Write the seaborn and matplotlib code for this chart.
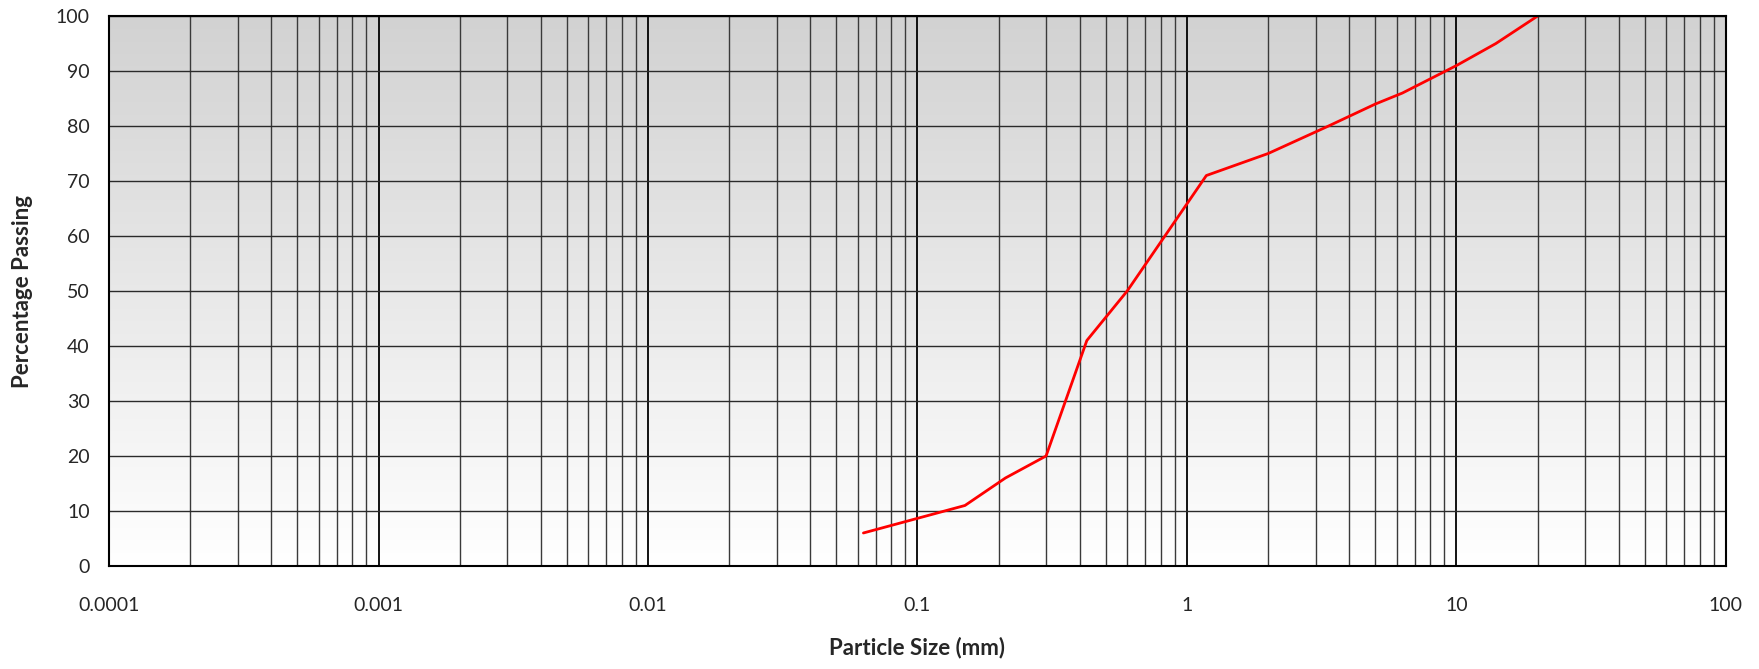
import numpy as np
import pandas as pd
import matplotlib
matplotlib.use("Agg")
import matplotlib.pyplot as plt
from matplotlib.ticker import LogLocator, FixedLocator, FuncFormatter, NullFormatter
import seaborn as sns

# sieve sizes (mm) and percentage passing
particle_size = [0.063, 0.15, 0.212, 0.3, 0.425, 0.6, 1.18, 2.0, 3.35, 5.0, 6.3, 10.0, 14.0, 20.0]
pct_passing = [6, 11, 16, 20, 41, 50, 71, 75, 80, 84, 86, 91, 95, 100]

x_ticks = [0.0001, 0.001, 0.01, 0.1, 1, 10, 100]
y_ticks = [0, 10, 20, 30, 40, 50, 60, 70, 80, 90, 100]

df = pd.DataFrame({"size": particle_size, "passing": pct_passing})

sns.set_style("white")
plt.rcParams["font.family"] = ["Lato", "DejaVu Sans"]

fig = plt.figure(figsize=(17.59, 6.69), dpi=100)
ax = fig.add_axes([0.062, 0.154, 0.9192, 0.822])

# grey-to-white vertical gradient behind the grid
grad = np.linspace(1.0, 0.0, 256).reshape(-1, 1)
ax.imshow(grad, extent=[0, 1, 0, 1], transform=ax.transAxes, aspect="auto",
          cmap=plt.matplotlib.colors.LinearSegmentedColormap.from_list(
              "bg", ["#ffffff", "#d2d2d2"]),
          zorder=0)

sns.lineplot(data=df, x="size", y="passing", ax=ax, color="#ff0000",
             linewidth=2, zorder=5, sort=False)

ax.set_xscale("log")
ax.set_xlim(x_ticks[0], x_ticks[-1])
ax.set_ylim(y_ticks[0], y_ticks[-1])
ax.xaxis.set_major_locator(FixedLocator(x_ticks))
ax.xaxis.set_major_formatter(FuncFormatter(lambda v, p: f"{v:g}"))
ax.xaxis.set_minor_locator(LogLocator(base=10, subs=np.arange(2, 10), numticks=100))
ax.xaxis.set_minor_formatter(NullFormatter())
ax.set_yticks(y_ticks)

ax.grid(True, which="major", axis="x", color="#000000", linewidth=1.3, zorder=1)
ax.grid(True, which="minor", axis="x", color="#3a3a3a", linewidth=1.0, zorder=1)
ax.grid(True, which="major", axis="y", color="#2a2a2a", linewidth=1.0, zorder=1)
ax.set_axisbelow(False)

for s in ax.spines.values():
    s.set_color("black")
    s.set_linewidth(1.5)
    s.set_zorder(6)

ax.tick_params(axis="both", which="both", length=0, labelsize=14)
ax.tick_params(axis="x", pad=22)
ax.tick_params(axis="y", pad=14)

ax.set_xlabel("Particle Size (mm)", fontsize=16, fontweight="bold", labelpad=17)
ax.set_ylabel("Percentage Passing", fontsize=16, fontweight="bold", labelpad=16)

fig.savefig("out.png", dpi=100)
